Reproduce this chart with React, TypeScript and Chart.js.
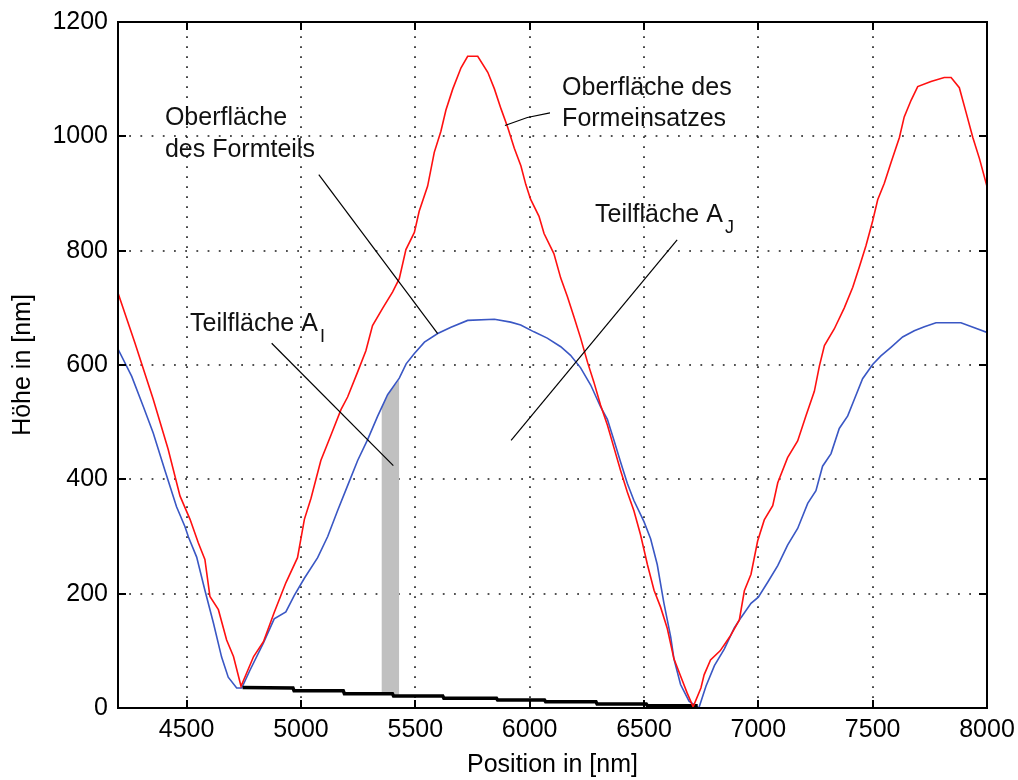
import React, { useEffect, useRef } from "react";
import { Chart, registerables } from "chart.js";

Chart.register(...registerables);

// ---- Axis ticks ----
const xTicks = [4500, 5000, 5500, 6000, 6500, 7000, 7500, 8000];
const yTicks = [0, 200, 400, 600, 800, 1000, 1200];
const xMin = 4200;
const xMax = 8000;
const yMin = 0;
const yMax = 1200;

// ---- Oberfläche des Formeinsatzes (red) ----
const redPositions = [
  4200, 4273, 4354, 4419, 4471, 4515, 4551, 4580, 4602, 4639, 4675, 4705, 4738,
  4793, 4836, 4883, 4934, 4985, 5015, 5044, 5087, 5131, 5175, 5204, 5248, 5284,
  5313, 5357, 5401, 5430, 5459, 5496, 5517, 5554, 5583, 5612, 5634, 5664, 5700,
  5729, 5773, 5817, 5846, 5875, 5904, 5933, 5962, 5983, 6004, 6041, 6063, 6106,
  6136, 6165, 6194, 6223, 6253, 6281, 6310, 6340, 6369, 6398, 6427, 6456, 6485,
  6515, 6544, 6573, 6602, 6631, 6660, 6689, 6715, 6749, 6763, 6791, 6833, 6876,
  6917, 6939, 6968, 6997, 7026, 7063, 7085, 7128, 7172, 7208, 7245, 7267, 7289,
  7332, 7376, 7413, 7442, 7471, 7500, 7522, 7551, 7580, 7617, 7638, 7668, 7697,
  7755, 7813, 7843, 7879, 7909, 7938, 7967, 8000,
];
const redHeights = [
  726, 640, 540, 453, 371, 330, 289, 260, 195, 172, 119, 90, 38,
  90, 116, 167, 219, 263, 330, 367, 433, 477, 522, 544, 588, 625,
  669, 699, 728, 751, 802, 832, 869, 913, 972, 1009, 1046, 1083, 1120,
  1140, 1140, 1112, 1083, 1048, 1016, 979, 948, 916, 890, 860, 830, 795,
  752, 720, 684, 647, 605, 570, 530, 495, 455, 415, 378, 345, 303,
  251, 206, 176, 139, 86, 56, 26, 2, 35, 58, 84, 100, 125,
  154, 205, 234, 292, 329, 354, 394, 438, 467, 511, 554, 598, 634,
  663, 700, 736, 772, 809, 852, 889, 918, 954, 998, 1034, 1063, 1087,
  1096, 1103, 1103, 1085, 1041, 998, 961, 912,
];

// ---- Oberfläche des Formteils (blue) ----
const bluePositions = [
  4200, 4260, 4311, 4354, 4405, 4456, 4493, 4508, 4544, 4580, 4617, 4653, 4682,
  4719, 4741, 4777, 4836, 4883, 4934, 4971, 5015, 5073, 5117, 5160, 5204, 5248,
  5292, 5335, 5379, 5430, 5460, 5496, 5540, 5598, 5656, 5729, 5846, 5917, 5961,
  6019, 6077, 6136, 6179, 6223, 6267, 6310, 6340, 6369, 6398, 6427, 6456, 6500,
  6529, 6558, 6587, 6617, 6631, 6660, 6697, 6740, 6771, 6808, 6851, 6895, 6924,
  6968, 7000, 7041, 7085, 7128, 7172, 7216, 7252, 7281, 7318, 7354, 7391, 7420,
  7456, 7500, 7536, 7580, 7631, 7682, 7726, 7777, 7886, 7945, 8000,
];
const blueHeights = [
  628, 580, 527, 481, 416, 352, 317, 299, 264, 206, 149, 89, 54,
  35, 35, 66, 114, 156, 168, 197, 227, 263, 300, 345, 389, 433,
  470, 510, 548, 577, 602, 620, 640, 655, 666, 678, 680, 675, 670,
  658, 647, 632, 617, 595, 565, 527, 505, 468, 430, 393, 363, 326,
  296, 251, 184, 124, 86, 41, 12, 0, 38, 74, 103, 140, 158,
  183, 194, 220, 249, 285, 314, 358, 380, 423, 445, 489, 511, 540,
  576, 601, 616, 631, 649, 660, 667, 674, 674, 665, 657,
];

// ---- Black base line ----
const basePositions = [
  4745, 4965, 4970, 5185, 5190, 5400, 5405, 5620, 5625, 5855, 5860, 6065, 6070,
  6290, 6295, 6510, 6515, 6735,
];
const baseHeights = [
  36, 35, 30, 30, 25, 25, 21, 21, 17, 17, 14, 14, 11,
  11, 7, 7, 4, 4,
];

// ---- Gray strip (Teilfläche A_I) ----
const shadePositions = [5352, 5390, 5430];
const shadeTopHeights = [527, 553, 574];
const shadeBottomHeights = [25, 24, 23];

// ---- Annotation pointer lines [from, to] ----
const pointerFormteilX = [5078, 5598];
const pointerFormteilY = [933, 655];
const pointerAIX = [4872, 5404];
const pointerAIY = [638, 424];
const pointerAJX = [5919, 6645];
const pointerAJY = [468, 819];
const pointerEinsatzX = [5892, 5990, 6089];
const pointerEinsatzY = [1019, 1033, 1041];

// ---- Annotation texts ----
const labelTexts = [
  "Oberfläche",
  "des Formteils",
  "Oberfläche des",
  "Formeinsatzes",
  "Teilfläche A",
  "Teilfläche A",
];
const labelX = [4405, 4405, 6142, 6142, 6286, 4515];
const labelY = [1020, 963, 1072, 1018, 850, 659];
const labelSubscripts = ["", "", "", "", "J", "I"];

const FONT = '"Liberation Sans", Arial, Helvetica, sans-serif';

const zip = (xs: number[], ys: number[]) => xs.map((x, i) => ({ x, y: ys[i] }));

const framePlugin = {
  id: "matlabFrame",
  beforeDatasetsDraw(chart: any) {
    const { ctx, chartArea: a, scales } = chart;
    const x = scales.x;
    const y = scales.y;
    ctx.save();
    ctx.strokeStyle = "#1a1a1a";
    ctx.lineWidth = 1.6;
    ctx.setLineDash([1.8, 8.2]);
    for (const v of xTicks) {
      const px = Math.round(x.getPixelForValue(v));
      if (px <= a.left + 2 || px >= a.right - 2) continue;
      ctx.beginPath();
      ctx.moveTo(px, a.bottom);
      ctx.lineTo(px, a.top);
      ctx.stroke();
    }
    ctx.setLineDash([1.8, 9.4]);
    for (const v of yTicks) {
      const py = Math.round(y.getPixelForValue(v));
      if (py <= a.top + 2 || py >= a.bottom - 2) continue;
      ctx.beginPath();
      ctx.moveTo(a.left, py);
      ctx.lineTo(a.right, py);
      ctx.stroke();
    }
    ctx.restore();
  },
  afterDatasetsDraw(chart: any) {
    const { ctx, chartArea: a, scales } = chart;
    const x = scales.x;
    const y = scales.y;
    ctx.save();
    ctx.setLineDash([]);
    ctx.strokeStyle = "#000";
    ctx.lineWidth = 2;
    ctx.strokeRect(a.left, a.top, a.right - a.left, a.bottom - a.top);
    const tl = 8;
    ctx.lineWidth = 2;
    ctx.beginPath();
    for (const v of xTicks) {
      const px = Math.round(x.getPixelForValue(v));
      ctx.moveTo(px, a.bottom);
      ctx.lineTo(px, a.bottom - tl);
      ctx.moveTo(px, a.top);
      ctx.lineTo(px, a.top + tl);
    }
    for (const v of yTicks) {
      const py = Math.round(y.getPixelForValue(v));
      ctx.moveTo(a.left, py);
      ctx.lineTo(a.left + tl, py);
      ctx.moveTo(a.right, py);
      ctx.lineTo(a.right - tl, py);
    }
    ctx.stroke();

    // annotation texts
    ctx.fillStyle = "#111";
    ctx.textBaseline = "alphabetic";
    ctx.textAlign = "left";
    labelTexts.forEach((t, i) => {
      const px = x.getPixelForValue(labelX[i]);
      const py = y.getPixelForValue(labelY[i]);
      ctx.font = `25px ${FONT}`;
      ctx.fillText(t, px, py);
      const sub = labelSubscripts[i];
      if (sub) {
        const w = ctx.measureText(t).width;
        ctx.font = `18px ${FONT}`;
        ctx.fillText(sub, px + w + 2, py + 11);
      }
    });
    ctx.restore();
  },
};

export default function App() {
  const ref = useRef<HTMLCanvasElement>(null);

  useEffect(() => {
    if (!ref.current) return;
    const pointer = (xs: number[], ys: number[]) => ({
      data: zip(xs, ys),
      showLine: true,
      borderColor: "#000",
      borderWidth: 1.2,
      pointRadius: 0,
      fill: false,
      order: 1,
    });
    const chart = new Chart(ref.current, {
      type: "scatter",
      data: {
        datasets: [
          {
            label: "shadeTop",
            data: zip(shadePositions, shadeTopHeights),
            showLine: true,
            borderWidth: 0,
            borderColor: "rgba(0,0,0,0)",
            backgroundColor: "#c0c0c0",
            pointRadius: 0,
            fill: 1,
            order: 6,
          } as any,
          {
            label: "shadeBottom",
            data: zip(shadePositions, shadeBottomHeights),
            showLine: true,
            borderWidth: 0,
            borderColor: "rgba(0,0,0,0)",
            pointRadius: 0,
            fill: false,
            order: 7,
          } as any,
          {
            label: "Basis",
            data: zip(basePositions, baseHeights),
            showLine: true,
            borderColor: "#000",
            borderWidth: 3.5,
            pointRadius: 0,
            fill: false,
            order: 3,
          } as any,
          {
            label: "Oberfläche des Formteils",
            data: zip(bluePositions, blueHeights),
            showLine: true,
            borderColor: "#3a57c4",
            borderWidth: 1.6,
            pointRadius: 0,
            fill: false,
            order: 4,
          } as any,
          {
            label: "Oberfläche des Formeinsatzes",
            data: zip(redPositions, redHeights),
            showLine: true,
            borderColor: "#ff1010",
            borderWidth: 1.6,
            pointRadius: 0,
            fill: false,
            order: 2,
          } as any,
          pointer(pointerFormteilX, pointerFormteilY) as any,
          pointer(pointerAIX, pointerAIY) as any,
          pointer(pointerAJX, pointerAJY) as any,
          pointer(pointerEinsatzX, pointerEinsatzY) as any,
        ],
      },
      options: {
        animation: false,
        responsive: false,
        devicePixelRatio: 1,
        layout: { padding: { left: 0, right: 31, top: 22, bottom: 0 } },
        plugins: {
          legend: { display: false },
          tooltip: { enabled: false },
        },
        scales: {
          x: {
            type: "linear",
            min: xMin,
            max: xMax,
            afterBuildTicks: (s: any) => {
              s.ticks = xTicks.map((v) => ({ value: v }));
            },
            afterFit: (s: any) => {
              s.height = 72;
              s.paddingLeft = 0;
              s.paddingRight = 0;
            },
            grid: { display: false, drawTicks: false },
            border: { display: false },
            ticks: {
              color: "#000",
              padding: 7,
              maxRotation: 0,
              autoSkip: false,
              font: { family: FONT, size: 25 },
              callback: (v: any) => String(v),
            },
            title: {
              display: true,
              text: "Position in [nm]",
              color: "#000",
              font: { family: FONT, size: 25 },
              padding: { top: 0, bottom: 0 },
            },
          },
          y: {
            type: "linear",
            min: yMin,
            max: yMax,
            afterBuildTicks: (s: any) => {
              s.ticks = yTicks.map((v) => ({ value: v }));
            },
            afterFit: (s: any) => {
              s.width = 118;
              s.paddingTop = 0;
              s.paddingBottom = 0;
            },
            grid: { display: false, drawTicks: false },
            border: { display: false },
            ticks: {
              color: "#000",
              padding: 10,
              autoSkip: false,
              font: { family: FONT, size: 25 },
              callback: (v: any) => String(v),
            },
            title: {
              display: true,
              text: "Höhe in [nm]",
              color: "#000",
              font: { family: FONT, size: 25 },
              padding: { top: 8, bottom: 0 },
            },
          },
        },
      } as any,
      plugins: [framePlugin],
    });
    return () => chart.destroy();
  }, []);

  return (
    <div
      style={{
        position: "absolute",
        left: 0,
        top: 0,
        width: 1018,
        height: 780,
        background: "#fff",
      }}
    >
      <canvas ref={ref} width={1018} height={780} style={{ display: "block" }} />
    </div>
  );
}
